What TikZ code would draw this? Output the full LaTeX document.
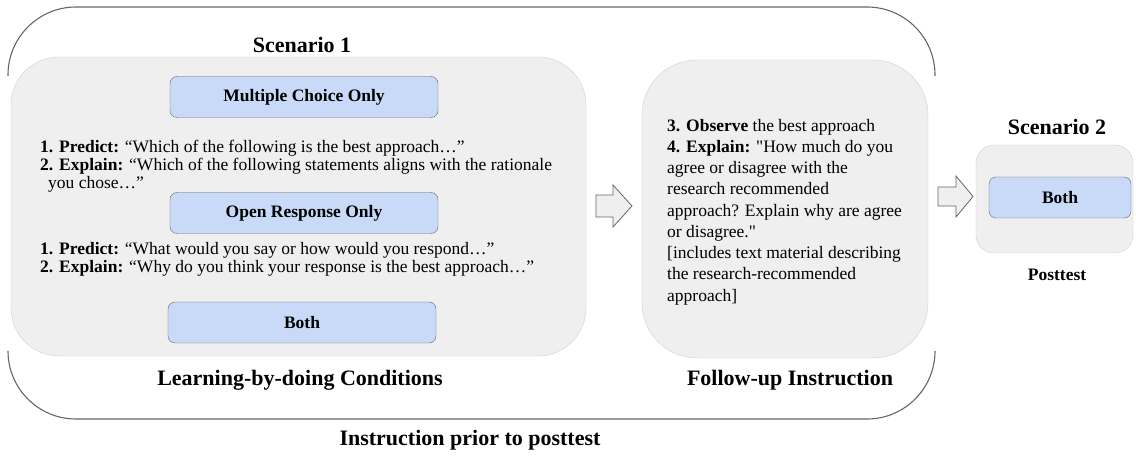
\documentclass[tikz,border=0pt]{standalone}
\usepackage{fontspec}
\setmainfont{Liberation Serif}[Ligatures=TeXOff]
\usetikzlibrary{positioning}
\definecolor{panelgray}{HTML}{EFEFEF}
\definecolor{paneledge}{HTML}{D0D0D0}
\definecolor{condblue}{HTML}{C9DAF8}
\definecolor{frameline}{HTML}{666666}
\tikzset{
	panel/.style={draw=paneledge, fill=panelgray, rounded corners=#1, inner sep=0pt},
	condbox/.style={draw=frameline, fill=condblue, rounded corners=7pt, minimum width=268pt, minimum height=41pt, font=\fontsize{17.5}{21}\selectfont\bfseries},
	heading/.style={font=\fontsize{22}{26}\selectfont\bfseries, inner sep=0pt},
	bodytext/.style={align=left, inner sep=0pt},
	blockarrow/.style={draw=frameline, fill=panelgray, line width=0.8pt, line join=miter},
}
\begin{document}
\begin{tikzpicture}[x=1pt,y=-1pt]
	\useasboundingbox (0,0) rectangle (1136,457);
	% outer frame, sides hidden in the middle
	\draw[frameline, line width=1.1pt, rounded corners=68pt] (8,76) -- (8,7) -- (935,7) -- (935,76);
	\draw[frameline, line width=1.1pt, rounded corners=68pt] (8,352) -- (8,419) -- (935,419) -- (935,352);
	% panels
	\node[panel=48pt, minimum width=575pt, minimum height=299pt] (lbd) at (298.5,206.5) {};
	\node[panel=55pt, minimum width=286pt, minimum height=298pt] (follow) at (785,209) {};
	\node[panel=18pt, minimum width=157pt, minimum height=108pt] (post) at (1054.5,199) {};
	% condition boxes
	\node[condbox] (mc) at (304,97) {Multiple Choice Only};
	\node[condbox] (orr) at (304,213) {Open Response Only};
	\node[condbox] (both) at (302,322.5) {Both};
	\node[condbox, minimum width=142pt] (both2) at (1060,197.5) {Both};
	% prompts
	\node[bodytext, anchor=west, font=\fontsize{17.5}{18}\selectfont] (mctext) at (40,166) {%
		\makebox[19pt][l]{\textbf{1.}}\textbf{Predict:} “Which of the following is the best approach…”\\
		\makebox[19pt][l]{\textbf{2.}}\textbf{Explain:} “Which of the following statements aligns with the rationale\\
		\hspace*{8pt}you chose…”};
	\node[bodytext, anchor=west, font=\fontsize{17.5}{18}\selectfont] (ortext) at (40,259) {%
		\makebox[19pt][l]{\textbf{1.}}\textbf{Predict:} “What would you say or how would you respond…”\\
		\makebox[19pt][l]{\textbf{2.}}\textbf{Explain:} “Why do you think your response is the best approach…”};
	\node[bodytext, anchor=west, font=\fontsize{17.5}{21.25}\selectfont] (futext) at (667,212) {%
		\textbf{3. Observe} the best approach\\
		\textbf{4. Explain:} "How much do you\\
		agree or disagree with the\\
		research recommended\\
		approach? Explain why are agree\\
		or disagree."\\
		{[}includes text material describing\\
		the research-recommended\\
		approach]};
	% titles
	\node[heading] (sc1) at (302,45) {Scenario 1};
	\node[heading] (lbdlabel) at (300,380) {Learning-by-doing Conditions};
	\node[heading] (fulabel) at (790,380) {Follow-up Instruction};
	\node[heading] (prior) at (470,440) {Instruction prior to posttest};
	\node[heading] (sc2) at (1057,127) {Scenario 2};
	\node[font=\fontsize{17.5}{21}\selectfont\bfseries] (posttest) at (1057,275) {Posttest};
	% block arrows
	\draw[blockarrow] (596,195) -- (613,195) -- (613,185) -- (632,206) -- (613,227) -- (613,217) -- (596,217) -- cycle;
	\draw[blockarrow] (938,187) -- (956,187) -- (956,176) -- (973,196.5) -- (956,217) -- (956,206) -- (938,206) -- cycle;
\end{tikzpicture}
\end{document}
